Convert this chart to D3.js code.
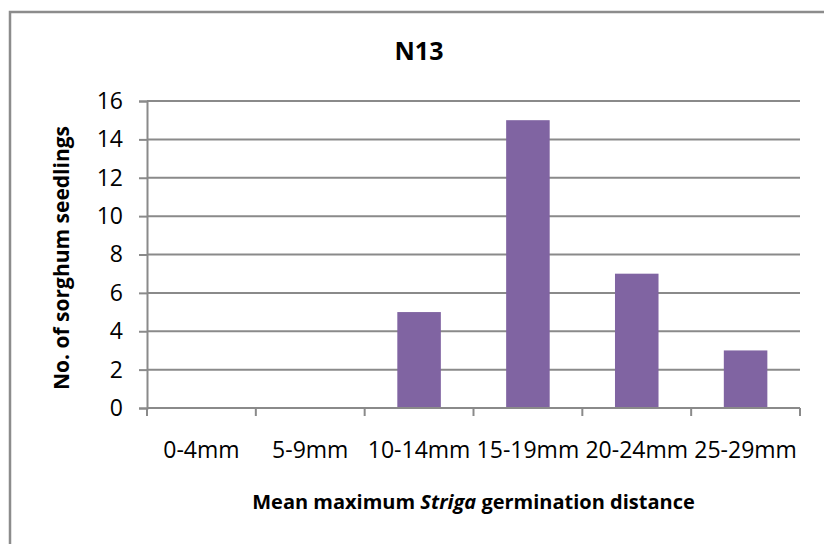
<!DOCTYPE html>
<html>
<head>
<meta charset="utf-8">
<script src="https://cdn.jsdelivr.net/npm/d3@7"></script>
<style>
  html, body { margin: 0; padding: 0; background: #fff; }
  svg { display: block; }
  text { font-family: "Open Sans", "Noto Sans", sans-serif; fill: #000; }
</style>
</head>
<body>
<svg id="chart" width="824" height="544"></svg>
<script>
// Seedling counts per germination-distance class
const categories = ["0-4mm", "5-9mm", "10-14mm", "15-19mm", "20-24mm", "25-29mm"];
const seedlings = [0, 0, 5, 15, 7, 3];
const yTicks = [0, 2, 4, 6, 8, 10, 12, 14, 16];
const chartTitle = "N13";
const yTitle = "No. of sorghum seedlings";

const svg = d3.select("#chart");
const plot = { left: 147, right: 800, top: 101, bottom: 408 };
const gridColor = "#8a8a8a";

// chart frame (right and bottom edges fall outside the canvas)
svg.append("rect")
  .attr("x", 10).attr("y", 12)
  .attr("width", 830).attr("height", 560)
  .attr("fill", "none")
  .attr("stroke", "#8c8c8c")
  .attr("stroke-width", 2.5);

const x = d3.scaleBand().domain(categories).range([plot.left, plot.right]).padding(0);
const xBar = d3.scaleBand().domain(categories).range([plot.left, plot.right])
  .paddingInner(0.6).paddingOuter(0.3);
const y = d3.scaleLinear().domain([0, 16]).range([plot.bottom, plot.top]);

// horizontal gridlines + y axis
const yAxis = d3.axisLeft(y).tickValues(yTicks).tickSize(8).tickPadding(16).tickFormat(d3.format("d"));
const gy = svg.append("g").attr("transform", `translate(${plot.left},0)`).call(yAxis);
gy.select(".domain").attr("stroke", gridColor).attr("stroke-width", 2);
gy.selectAll(".tick line").attr("stroke", gridColor).attr("stroke-width", 2);
gy.selectAll(".tick text").attr("font-size", 23).attr("font-family", null);

svg.append("g").selectAll("line")
  .data(yTicks.filter(d => d > 0))
  .join("line")
  .attr("x1", plot.left).attr("x2", plot.right)
  .attr("y1", d => y(d)).attr("y2", d => y(d))
  .attr("stroke", gridColor).attr("stroke-width", 2);

// bars
svg.append("g").selectAll("rect")
  .data(categories.map((c, i) => ({ c, v: seedlings[i] })))
  .join("rect")
  .attr("x", d => xBar(d.c))
  .attr("width", xBar.bandwidth())
  .attr("y", d => y(d.v))
  .attr("height", d => y(0) - y(d.v))
  .attr("fill", "#8064A2");

// x axis with ticks at category boundaries
const gx = svg.append("g").attr("transform", `translate(0,${plot.bottom})`);
gx.append("line")
  .attr("x1", plot.left).attr("x2", plot.right)
  .attr("stroke", gridColor).attr("stroke-width", 2);
const bounds = categories.map(c => x(c)).concat([plot.right]);
gx.selectAll("line.tk").data(bounds).join("line").attr("class", "tk")
  .attr("x1", d => d).attr("x2", d => d)
  .attr("y1", 0).attr("y2", 8)
  .attr("stroke", gridColor).attr("stroke-width", 2);
gx.selectAll("text").data(categories).join("text")
  .attr("x", d => x(d) + x.bandwidth() / 2)
  .attr("y", 50)
  .attr("text-anchor", "middle")
  .attr("font-size", 23)
  .text(d => d);

// titles
svg.append("text")
  .attr("x", 419).attr("y", 60)
  .attr("text-anchor", "middle")
  .attr("font-size", 25).attr("font-weight", "bold")
  .text(chartTitle);

const xt = svg.append("text")
  .attr("x", (plot.left + plot.right) / 2).attr("y", 509)
  .attr("text-anchor", "middle")
  .attr("font-size", 20).attr("font-weight", "bold");
xt.append("tspan").text("Mean maximum ");
xt.append("tspan").attr("font-style", "italic").text("Striga");
xt.append("tspan").text(" germination distance");

svg.append("text")
  .attr("transform", `translate(69,258) rotate(-90)`)
  .attr("text-anchor", "middle")
  .attr("font-size", 21).attr("font-weight", "bold")
  .text(yTitle);
</script>
</body>
</html>
